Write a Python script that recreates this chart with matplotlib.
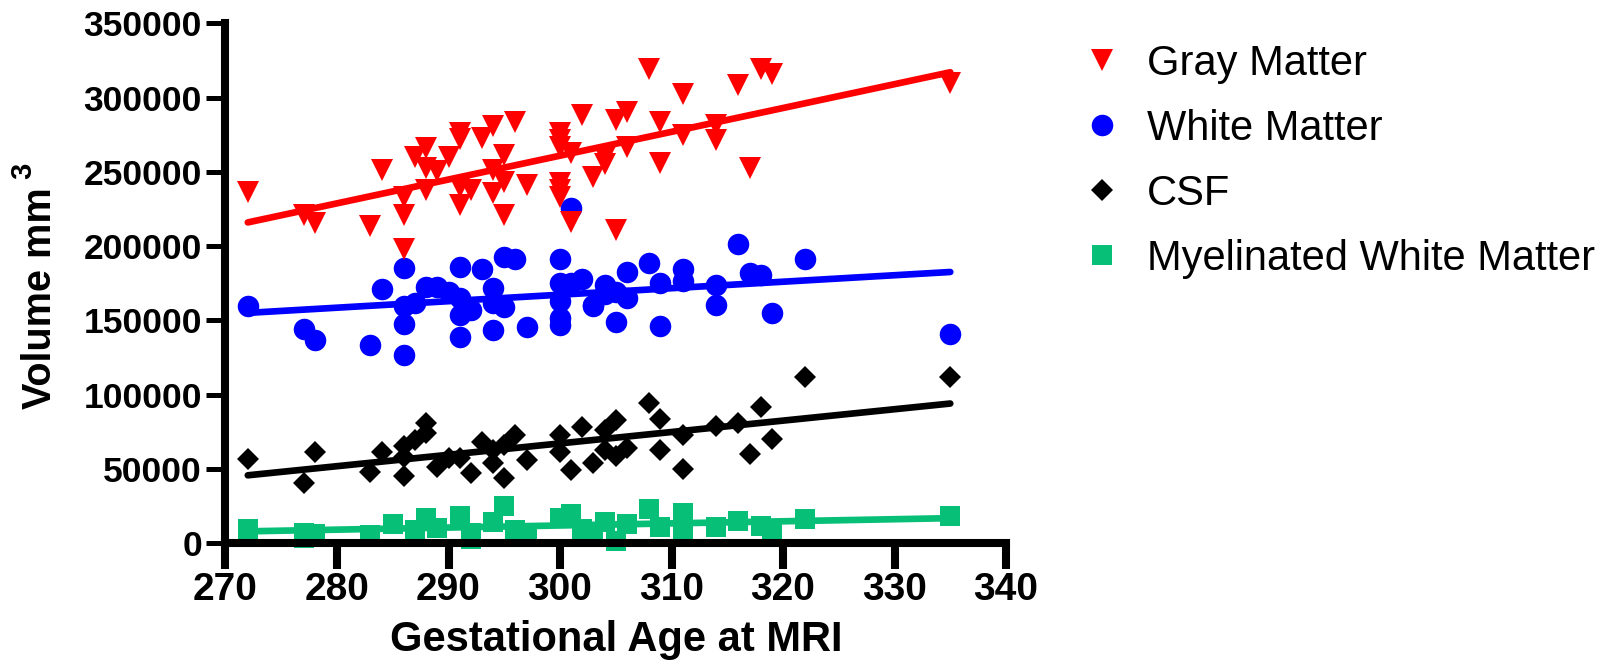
import numpy as np
import matplotlib
matplotlib.use('Agg')
import matplotlib.pyplot as plt

plt.rcParams['font.family'] = ['Liberation Sans', 'DejaVu Sans']

# gestational age (days) and volume (mm^3)
gm_age = [272, 277, 278, 283, 284, 286, 286, 286, 287, 288, 288, 288, 289, 290,
          291, 291, 291, 291, 292, 293, 294, 294, 294, 295, 295, 295, 296, 297,
          300, 300, 300, 300, 300, 300, 301, 301, 302, 303, 304, 304, 305, 305,
          306, 306, 308, 309, 309, 311, 311, 314, 314, 316, 317, 318, 319, 335]
gm_vol = [236600, 220900, 215700, 213800, 251200, 197900, 220900, 233200, 259800,
          266400, 252300, 237800, 250700, 260100, 275900, 272000, 240000, 227600,
          237800, 272500, 280800, 251200, 235500, 261300, 243300, 220900, 283700,
          241100, 276300, 271600, 266700, 242200, 238000, 233100, 262500, 216400,
          288200, 246700, 260100, 255000, 284900, 210800, 290400, 266900, 319000,
          283700, 256100, 302200, 274700, 281500, 271800, 308400, 252300, 319600,
          315600, 309600]

wm_age = [272, 277, 278, 283, 284, 286, 286, 286, 286, 287, 288, 289, 290, 291,
          291, 291, 291, 292, 293, 294, 294, 294, 295, 295, 296, 297, 300, 300,
          300, 300, 300, 301, 301, 302, 303, 303, 304, 304, 305, 305, 306, 306,
          308, 309, 309, 311, 311, 314, 314, 316, 317, 318, 319, 322, 335]
wm_vol = [159600, 144200, 136800, 133500, 171100, 185400, 159600, 147400, 126500,
          161500, 172700, 172700, 169300, 186100, 153600, 139000, 165000, 157000,
          184300, 171600, 162000, 143500, 192400, 158800, 191100, 145300, 191700,
          174900, 163000, 151400, 147200, 225400, 175000, 177600, 159600, 160300,
          173700, 168000, 169300, 149100, 182700, 164900, 188800, 175300, 146200,
          184300, 176800, 173700, 160300, 201400, 181700, 180600, 155200, 191700,
          140700]

csf_age = [272, 277, 278, 283, 284, 286, 286, 286, 287, 288, 288, 289, 290, 291,
           292, 293, 294, 294, 295, 295, 296, 297, 300, 300, 301, 302, 303, 304,
           304, 305, 305, 306, 308, 309, 309, 311, 311, 314, 316, 317, 318, 319,
           322, 335]
csf_vol = [56500, 40400, 61600, 48200, 61600, 65500, 45200, 57900, 69500, 80700,
           74000, 51600, 57200, 57300, 47100, 68400, 62800, 54300, 43800, 66100,
           72900, 56000, 72900, 61200, 49300, 78400, 53800, 76100, 62800, 83000,
           58800, 63900, 94200, 83500, 62800, 72900, 49800, 78900, 80700, 60100,
           91500, 69900, 112100, 112100]

myel_age = [272, 277, 277, 278, 283, 285, 287, 288, 289, 291, 292, 292, 294, 295,
            296, 297, 300, 301, 302, 303, 304, 305, 306, 308, 309, 311, 311, 314,
            316, 318, 319, 322, 335]
myel_vol = [9600, 7100, 3400, 6200, 5500, 13200, 9000, 16800, 10500, 18600, 6900,
            3000, 14500, 25100, 8900, 6600, 17200, 20000, 9900, 7000, 14300, 1800,
            13200, 23300, 10800, 20200, 7900, 11000, 15000, 11700, 9400, 16100,
            18400]

labels = ['Gray Matter', 'White Matter', 'CSF', 'Myelinated White Matter']
colors = ['#FF0000', '#0000FF', '#000000', '#08BF78']
markers = ['v', 'o', 'D', 's']
sizes = [15.5, 15.5, 11, 15]

x_ticks = [270, 280, 290, 300, 310, 320, 330, 340]
y_ticks = [0, 50000, 100000, 150000, 200000, 250000, 300000, 350000]

data = [(gm_age, gm_vol), (wm_age, wm_vol), (csf_age, csf_vol), (myel_age, myel_vol)]

fig = plt.figure(figsize=(16.13, 6.67), dpi=100)
ax = fig.add_axes([0.1398, 0.1855, 0.4839, 0.7795])

handles = [None] * 4
# draw back to front so red ends up on top
for i in [3, 2, 1, 0]:
    x, y = data[i]
    pts, = ax.plot(x, y, ls='none', marker=markers[i], ms=sizes[i],
                   color=colors[i], mec=colors[i], mew=0, label=labels[i],
                   clip_on=False, zorder=2)
    handles[i] = pts
    coef = np.polyfit(x, y, 1)
    xs = np.array([min(x), max(x)])
    ax.plot(xs, np.polyval(coef, xs), color=colors[i], lw=4.8,
            solid_capstyle='round', clip_on=False, zorder=2)

ax.set_xlim(270, 340)
ax.set_ylim(0, 350000)
ax.set_xticks(x_ticks)
ax.set_xticklabels([str(t) for t in x_ticks], fontsize=28, fontweight='bold')
ax.set_yticks(y_ticks)
ax.set_yticklabels([str(t) for t in y_ticks], fontsize=25.5, fontweight='bold')

for s in ['top', 'right']:
    ax.spines[s].set_visible(False)
for s in ['left', 'bottom']:
    ax.spines[s].set_linewidth(5.8)
ax.tick_params(axis='x', length=19, width=5.8, pad=2)
ax.tick_params(axis='y', length=14, width=3.6, pad=3)

ax.set_xlabel('Gestational Age at MRI', fontsize=30, fontweight='bold', labelpad=8)
fig.text(40 / 1613, 1 - 298 / 667, 'Volume mm', rotation=90, fontsize=28.5,
         fontweight='bold', ha='center', va='center')
fig.text(23.5 / 1613, 1 - 171 / 667, '3', rotation=90, fontsize=21,
         fontweight='bold', ha='center', va='center')

ax.legend(handles=handles, loc='upper left', bbox_to_anchor=(1081 / 1613, 0.934),
          bbox_transform=fig.transFigure, frameon=False, fontsize=30,
          handlelength=1.0, handletextpad=0.58, labelspacing=0.6,
          borderpad=0, borderaxespad=0, numpoints=1)

plt.savefig('out.png', dpi=100, facecolor='white')
